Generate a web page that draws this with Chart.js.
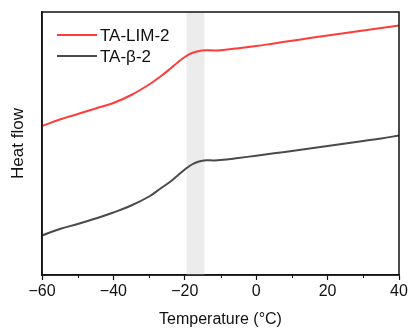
<!DOCTYPE html>
<html>
<head>
<meta charset="utf-8">
<script src="https://cdn.jsdelivr.net/npm/chart.js@4.4.0/dist/chart.umd.min.js"></script>
<style>
    html, body { margin: 0; padding: 0; background: #fff; }
    #wrap { width: 411px; height: 329px; position: relative; }
</style>
</head>
<body>
<div id="wrap"><canvas id="dscChart"></canvas></div>
<script>
// Temperature (°C) sample points
const temperatures = [-60, -55, -50, -45, -40, -35, -30, -27, -24, -22, -20, -18, -16, -14, -12, -10, -5, 0, 5, 10, 15, 20, 25, 30, 35, 40];
// Heat flow (arbitrary units)
const heatFlowLIM = [149, 155.5, 161, 166.5, 172, 180, 190.5, 198, 206.5, 212.5, 218, 222, 224, 224.7, 224.6, 224.8, 226.7, 229, 231.6, 234.2, 236.9, 239.5, 242, 244.5, 247, 249.5];
const heatFlowBeta = [39.5, 46, 51, 56.5, 62.5, 69.5, 78.5, 86, 93.5, 99.5, 105.5, 110.5, 113.5, 114.7, 114.6, 114.9, 117, 119.3, 121.7, 124, 126.5, 129, 131.5, 134, 136.5, 139.5];
const seriesLabels = ['TA-LIM-2', 'TA-\u03b2-2'];
// Tg region shading
const bandStart = -19.5;
const bandEnd = -14.5;
const xMin = -60, xMax = 40;
const majorTicks = [-60, -40, -20, 0, 20, 40];
const minorTicks = [-50, -30, -10, 10, 30];

const FONT = '"Liberation Sans", Arial, sans-serif';
const colors = ['#ff3b3b', '#4a4a4a'];

const toPoints = (ys) => temperatures.map((t, i) => ({ x: t, y: ys[i] }));

// shaded band + frame + minor ticks + legend
const decorPlugin = {
    id: 'decor',
    beforeDatasetsDraw(chart) {
        const { ctx, chartArea, scales } = chart;
        const x1 = scales.x.getPixelForValue(bandStart);
        const x2 = scales.x.getPixelForValue(bandEnd);
        ctx.save();
        ctx.fillStyle = '#ececec';
        ctx.fillRect(x1, chartArea.top, x2 - x1, chartArea.bottom - chartArea.top);
        ctx.restore();
    },
    afterDraw(chart) {
        const { ctx, chartArea, scales } = chart;
        ctx.save();
        ctx.strokeStyle = '#111';
        ctx.lineWidth = 1.5;
        ctx.strokeRect(chartArea.left, chartArea.top, chartArea.right - chartArea.left, chartArea.bottom - chartArea.top);
        // minor ticks
        ctx.lineWidth = 1;
        minorTicks.forEach(v => {
            const px = Math.round(scales.x.getPixelForValue(v)) + 0.5;
            ctx.beginPath();
            ctx.moveTo(px, chartArea.bottom);
            ctx.lineTo(px, chartArea.bottom + 3);
            ctx.stroke();
        });
        // legend
        const lx = chartArea.left + 15;
        let ly = chartArea.top + 23;
        ctx.font = '17px ' + FONT;
        ctx.textBaseline = 'middle';
        chart.data.datasets.forEach(ds => {
            ctx.strokeStyle = ds.borderColor;
            ctx.lineWidth = 2.2;
            ctx.beginPath();
            ctx.moveTo(lx, ly);
            ctx.lineTo(lx + 40, ly);
            ctx.stroke();
            ctx.fillStyle = '#111';
            ctx.fillText(ds.label, lx + 43, ly + 1);
            ly += 21;
        });
        ctx.restore();
    }
};

new Chart(document.getElementById('dscChart'), {
    type: 'line',
    data: {
        datasets: [
            { label: seriesLabels[0], data: toPoints(heatFlowLIM), borderColor: colors[0], borderWidth: 2, pointRadius: 0, tension: 0.4 },
            { label: seriesLabels[1], data: toPoints(heatFlowBeta), borderColor: colors[1], borderWidth: 2, pointRadius: 0, tension: 0.4 }
        ]
    },
    options: {
        responsive: true,
        maintainAspectRatio: false,
        animation: false,
        layout: { padding: { top: 12, right: 12, left: 0, bottom: 0 } },
        plugins: { legend: { display: false }, tooltip: { enabled: false } },
        scales: {
            x: {
                type: 'linear',
                min: xMin,
                max: xMax,
                afterBuildTicks: (scale) => { scale.ticks = majorTicks.map(v => ({ value: v })); },
                afterFit: (scale) => { scale.height = 54; },
                grid: { drawOnChartArea: false, drawTicks: true, tickLength: 5, tickColor: '#111', tickWidth: 1.2 },
                border: { display: true, color: '#111', width: 1.5 },
                ticks: {
                    color: '#111',
                    font: { family: FONT, size: 16 },
                    padding: 2,
                    maxRotation: 0,
                    callback: (v) => (v < 0 ? '\u2212' + Math.abs(v) : String(v))
                },
                title: { display: true, text: 'Temperature (\u00b0C)', color: '#111', font: { family: FONT, size: 16 }, padding: { top: 3, bottom: 0 } }
            },
            y: {
                min: 0,
                max: 263,
                afterFit: (scale) => { scale.width = 42; },
                grid: { display: false },
                border: { display: true, color: '#111', width: 1.5 },
                ticks: { display: false },
                title: { display: true, text: 'Heat flow', color: '#111', font: { family: FONT, size: 17 }, padding: { top: 8, bottom: 0 } }
            }
        }
    },
    plugins: [decorPlugin]
});
</script>
</body>
</html>
